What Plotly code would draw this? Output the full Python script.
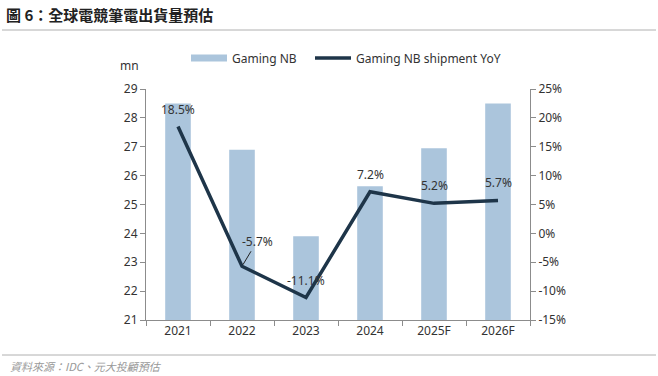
import plotly.graph_objects as go

categories = ["2021", "2022", "2023", "2024", "2025F", "2026F"]
shipments = [28.5, 26.9, 23.9, 25.63, 26.95, 28.5]
yoy = [18.5, -5.7, -11.1, 7.2, 5.2, 5.7]
yoy_labels = ["18.5%", "-5.7%", "-11.1%", "7.2%", "5.2%", "5.7%"]
left_ticks = [21, 22, 23, 24, 25, 26, 27, 28, 29]
right_ticks = [-15, -10, -5, 0, 5, 10, 15, 20, 25]
right_tick_labels = ["-15%", "-10%", "-5%", "0%", "5%", "10%", "15%", "20%", "25%"]

BAR = "#abc5dc"
LINE = "#1e3549"
TXT = "#333333"
AX = "#8c8c8c"
FONT = "Noto Sans, Noto Sans CJK TC, sans-serif"
CJK = "Noto Sans CJK TC, sans-serif"

W, H = 658, 376
PL, PR, PT, PB = 146, 530, 89, 320          # plot area in page pixels
pw, ph = PR - PL, PB - PT


def px(x):
    return (x - PL) / pw


def py(y):
    return 1 - (y - PT) / ph


xpos = list(range(len(categories)))
bounds = [i - 0.5 for i in range(len(categories) + 1)]

fig = go.Figure()
fig.add_trace(go.Bar(x=xpos, y=shipments, name="Gaming NB", showlegend=False,
                     marker=dict(color=BAR, line=dict(width=0)), width=0.4,
                     yaxis="y"))
# legend key for the bars (wide flat swatch as in the reference)
fig.add_trace(go.Scatter(x=[None], y=[None], name="Gaming NB", mode="lines",
                         line=dict(color=BAR, width=7), yaxis="y", legend="legend"))
fig.add_trace(go.Scatter(x=xpos, y=yoy, name="Gaming NB shipment YoY",
                         mode="lines", line=dict(color=LINE, width=3.5),
                         yaxis="y2", legend="legend2"))

# data labels for the YoY line
offsets = [(0, -17), (15, -25), (0, -17), (0, -17), (0, -18), (0, -18)]
for xi, v, t, (ax, ay) in zip(xpos, yoy, yoy_labels, offsets):
    arrow = ax != 0
    fig.add_annotation(x=xi, y=v, xref="x", yref="y2", text=t,
                       showarrow=arrow, arrowhead=0, arrowwidth=1,
                       arrowcolor="#222", ax=ax, ay=ay, standoff=2,
                       yshift=0 if arrow else -ay, xanchor="center",
                       font=dict(size=12, color=TXT, family=FONT))

leg = dict(orientation="h", y=py(58), xanchor="left", yanchor="middle",
           itemwidth=36, font=dict(size=12, color=TXT), bgcolor="rgba(0,0,0,0)")
fig.update_layout(
    width=W, height=H,
    margin=dict(l=PL, r=W - PR, t=PT, b=H - PB, autoexpand=False),
    paper_bgcolor="white", plot_bgcolor="white",
    font=dict(family=FONT, size=12, color=TXT),
    showlegend=True,
    legend=dict(x=px(186), **leg),
    legend2=dict(x=px(310), **leg),
    xaxis=dict(range=[-0.5, len(categories) - 0.5], tickvals=xpos, ticktext=categories,
               showline=True, linecolor=AX, linewidth=1, ticks="",
               minor=dict(tickvals=bounds, ticks="outside", ticklen=5, tickcolor=AX),
               showgrid=False, zeroline=False, tickfont=dict(size=12, color=TXT)),
    yaxis=dict(range=[21, 29], tickvals=left_ticks, showline=True, linecolor=AX,
               ticks="outside", ticklen=5, tickcolor=AX, showgrid=False,
               zeroline=False, tickfont=dict(size=12, color=TXT)),
    yaxis2=dict(range=[-15, 25], tickvals=right_ticks, ticktext=right_tick_labels,
                overlaying="y", side="right", showline=True, linecolor=AX,
                ticks="outside", ticklen=5, tickcolor=AX, showgrid=False,
                zeroline=False, tickfont=dict(size=12, color=TXT)),
)

# title, unit label, footer
fig.add_annotation(x=px(4), y=py(14), xref="paper", yref="paper",
                   text="<b>圖 6：全球電競筆電出貨量預估</b>", showarrow=False,
                   xanchor="left", yanchor="middle",
                   font=dict(size=15, color="#222", family=CJK))
fig.add_annotation(x=px(129), y=py(66), xref="paper", yref="paper",
                   text="mn", showarrow=False, xanchor="center", yanchor="middle",
                   font=dict(size=12, color=TXT))
fig.add_annotation(x=px(8), y=py(366), xref="paper", yref="paper",
                   text="<i>資料來源：IDC、元大投顧預估</i>", showarrow=False,
                   xanchor="left", yanchor="middle",
                   font=dict(size=11, color="#999", family=CJK))
for ly in (30, 355):
    fig.add_shape(type="line", xref="paper", yref="paper",
                  x0=px(2), x1=px(656), y0=py(ly), y1=py(ly),
                  line=dict(color="#b0b0b0", width=1))

fig.write_html("out.html", config={"displayModeBar": False},
               post_script="document.body.style.margin='0';document.body.style.overflow='hidden';")
